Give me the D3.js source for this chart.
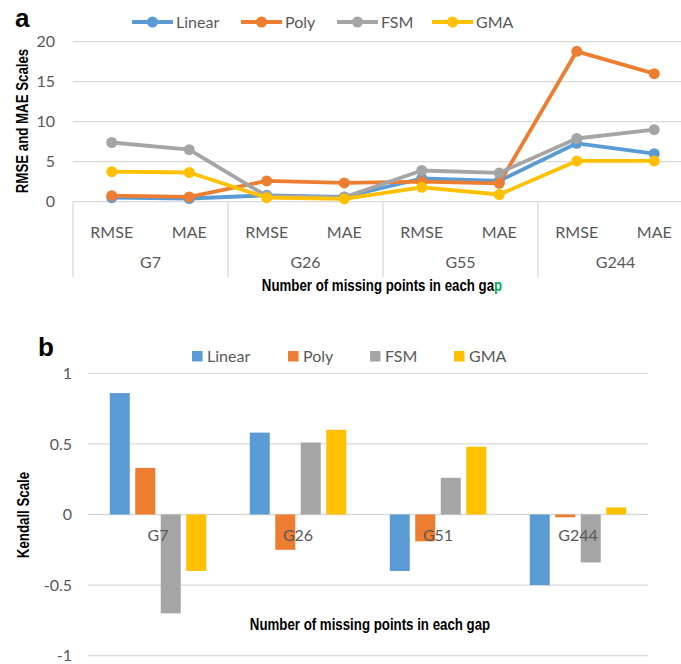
<!DOCTYPE html>
<html>
<head>
<meta charset="utf-8">
<script src="https://cdn.jsdelivr.net/npm/d3@7"></script>
<style>
  html, body { margin: 0; padding: 0; background: #fff; }
  svg { display: block; }
  .tick-label { font-family: Lato, "Open Sans", sans-serif; font-size: 16px; fill: #595959; }
  .axis-title { font-family: "Liberation Sans", Arial, sans-serif; font-weight: bold; font-size: 16px; fill: #000; }
  .panel-letter { font-family: "Liberation Sans", Arial, sans-serif; font-weight: bold; font-size: 26px; fill: #000; }
</style>
</head>
<body>
<script>
// ---- Data ----
const seriesNames = ["Linear", "Poly", "FSM", "GMA"];
const seriesColors = ["#5B9BD5", "#ED7D31", "#A5A5A5", "#FFC000"];

// Panel a: error metrics per gap group
const gapGroupsA = ["G7", "G26", "G55", "G244"];
const metrics = ["RMSE", "MAE"];
const linearErr = [0.5, 0.4, 0.8, 0.6, 2.9, 2.6, 7.3, 6.0];
const polyErr   = [0.75, 0.6, 2.6, 2.35, 2.5, 2.3, 18.8, 16.0];
const fsmErr    = [7.4, 6.5, 0.7, 0.55, 3.9, 3.6, 7.9, 9.0];
const gmaErr    = [3.75, 3.65, 0.5, 0.35, 1.8, 0.9, 5.1, 5.1];
const errTicks  = [0, 5, 10, 15, 20];

// Panel b: Kendall correlation per gap group
const gapGroupsB = ["G7", "G26", "G51", "G244"];
const linearTau = [0.86, 0.58, -0.40, -0.50];
const polyTau   = [0.33, -0.25, -0.19, -0.02];
const fsmTau    = [-0.70, 0.51, 0.26, -0.34];
const gmaTau    = [-0.40, 0.60, 0.48, 0.05];
const tauTicks  = [-1, -0.5, 0, 0.5, 1];

const W = 681, H = 664;
const svg = d3.select("body").append("svg").attr("width", W).attr("height", H);
const gridColor = "#D9D9D9";
const narrow = 0.83; // horizontal squeeze for the condensed bold titles

// ================= Panel a: line chart =================
{
  const errSeries = [linearErr, polyErr, fsmErr, gmaErr];
  const cats = [];
  gapGroupsA.forEach(g => metrics.forEach(m => cats.push(g + "|" + m)));

  const x = d3.scaleBand().domain(cats).range([73, 693]);
  const y = d3.scaleLinear().domain([0, 20]).range([201.7, 41.7]);
  const g = svg.append("g");

  // gridlines
  g.selectAll("line.grid").data(errTicks.filter(t => t > 0)).join("line")
    .attr("x1", 73).attr("x2", W).attr("y1", d => y(d)).attr("y2", d => y(d))
    .attr("stroke", gridColor).attr("stroke-width", 1.3);
  // baseline
  g.append("line").attr("x1", 73).attr("x2", W).attr("y1", y(0)).attr("y2", y(0))
    .attr("stroke", gridColor).attr("stroke-width", 1.3);

  // y tick labels
  g.selectAll("text.yt").data(errTicks).join("text")
    .attr("class", "tick-label").attr("text-anchor", "end")
    .attr("x", 55).attr("y", d => y(d)).attr("dy", "0.35em").text(d => d);

  // group separators
  const bounds = gapGroupsA.map(gg => x(gg + "|RMSE")).concat([x.range()[1]]);
  g.selectAll("line.sep").data(bounds).join("line")
    .attr("x1", d => d).attr("x2", d => d).attr("y1", y(0)).attr("y2", 277)
    .attr("stroke", gridColor).attr("stroke-width", 1.3);

  // metric labels
  g.selectAll("text.cat").data(cats).join("text")
    .attr("class", "tick-label").attr("text-anchor", "middle")
    .attr("x", d => x(d) + x.bandwidth() / 2).attr("y", 238)
    .text(d => d.split("|")[1]);
  // group labels
  g.selectAll("text.grp").data(gapGroupsA).join("text")
    .attr("class", "tick-label").attr("text-anchor", "middle")
    .attr("x", d => x(d + "|RMSE") + x.bandwidth()).attr("y", 268)
    .text(d => d);

  // lines + markers
  const line = d3.line().x((d, i) => x(cats[i]) + x.bandwidth() / 2).y(d => y(d));
  errSeries.forEach((vals, si) => {
    g.append("path").datum(vals).attr("d", line)
      .attr("fill", "none").attr("stroke", seriesColors[si])
      .attr("stroke-width", 3.8).attr("stroke-linejoin", "round");
    g.selectAll(null).data(vals).join("circle")
      .attr("cx", (d, i) => x(cats[i]) + x.bandwidth() / 2).attr("cy", d => y(d))
      .attr("r", 5.5).attr("fill", seriesColors[si]);
  });

  // legend
  const legX = [132, 241, 337, 432];
  const lg = svg.append("g");
  seriesNames.forEach((name, i) => {
    const lx = legX[i];
    lg.append("line").attr("x1", lx).attr("x2", lx + 41).attr("y1", 22).attr("y2", 22)
      .attr("stroke", seriesColors[i]).attr("stroke-width", 3.8);
    lg.append("circle").attr("cx", lx + 20.5).attr("cy", 22).attr("r", 5.5).attr("fill", seriesColors[i]);
    lg.append("text").attr("class", "tick-label").attr("x", lx + 44).attr("y", 22)
      .attr("dy", "0.35em").text(name);
  });

  // axis titles
  svg.append("text").attr("class", "axis-title").attr("text-anchor", "middle")
    .attr("transform", `translate(28,121) rotate(-90) scale(${narrow},1)`).text("RMSE and MAE Scales");
  const xt = svg.append("text").attr("class", "axis-title").attr("text-anchor", "middle")
    .attr("transform", `translate(382,291) scale(${narrow},1)`);
  xt.append("tspan").text("Number of missing points in each ga");
  xt.append("tspan").attr("fill", "#00B050").text("p");

  svg.append("text").attr("class", "panel-letter").attr("x", 15).attr("y", 27).text("a");
}

// ================= Panel b: grouped bar chart =================
{
  const tauSeries = [linearTau, polyTau, fsmTau, gmaTau];
  const x0 = d3.scaleBand().domain(gapGroupsB).range([88, 648]);
  const x1 = d3.scaleBand().domain(seriesNames).range([0, x0.bandwidth()])
    .paddingInner(0.2157).paddingOuter(0.853);
  const y = d3.scaleLinear().domain([-1, 1]).range([655.7, 373.3]);
  const g = svg.append("g");

  g.selectAll("line.grid").data(tauTicks).join("line")
    .attr("x1", 88).attr("x2", 648).attr("y1", d => y(d)).attr("y2", d => y(d))
    .attr("stroke", gridColor).attr("stroke-width", 1.3);

  g.selectAll("text.yt").data(tauTicks).join("text")
    .attr("class", "tick-label").attr("text-anchor", "end")
    .attr("x", 72).attr("y", d => y(d)).attr("dy", "0.35em").text(d => d);

  tauSeries.forEach((vals, si) => {
    g.selectAll(null).data(vals).join("rect")
      .attr("x", (d, i) => x0(gapGroupsB[i]) + x1(seriesNames[si]))
      .attr("width", x1.bandwidth())
      .attr("y", d => y(Math.max(0, d)))
      .attr("height", d => Math.abs(y(d) - y(0)))
      .attr("fill", seriesColors[si]);
  });

  // category labels sit just below the zero line, over the bars
  g.selectAll("text.cat").data(gapGroupsB).join("text")
    .attr("class", "tick-label").attr("text-anchor", "middle")
    .attr("x", d => x0(d) + x0.bandwidth() / 2).attr("y", y(0) + 26)
    .text(d => d);

  // legend
  const legX = [192, 288, 370, 454];
  seriesNames.forEach((name, i) => {
    svg.append("rect").attr("x", legX[i]).attr("y", 351).attr("width", 10.5).attr("height", 10.5)
      .attr("fill", seriesColors[i]);
    svg.append("text").attr("class", "tick-label").attr("x", legX[i] + 15).attr("y", 356)
      .attr("dy", "0.35em").text(name);
  });

  svg.append("text").attr("class", "axis-title").attr("text-anchor", "middle")
    .attr("transform", `translate(29,515) rotate(-90) scale(${narrow},1)`).text("Kendall Scale");
  svg.append("text").attr("class", "axis-title").attr("text-anchor", "middle")
    .attr("transform", `translate(370,630) scale(${narrow},1)`).text("Number of missing points in each gap");

  svg.append("text").attr("class", "panel-letter").attr("x", 38).attr("y", 356).text("b");
}
</script>
</body>
</html>
